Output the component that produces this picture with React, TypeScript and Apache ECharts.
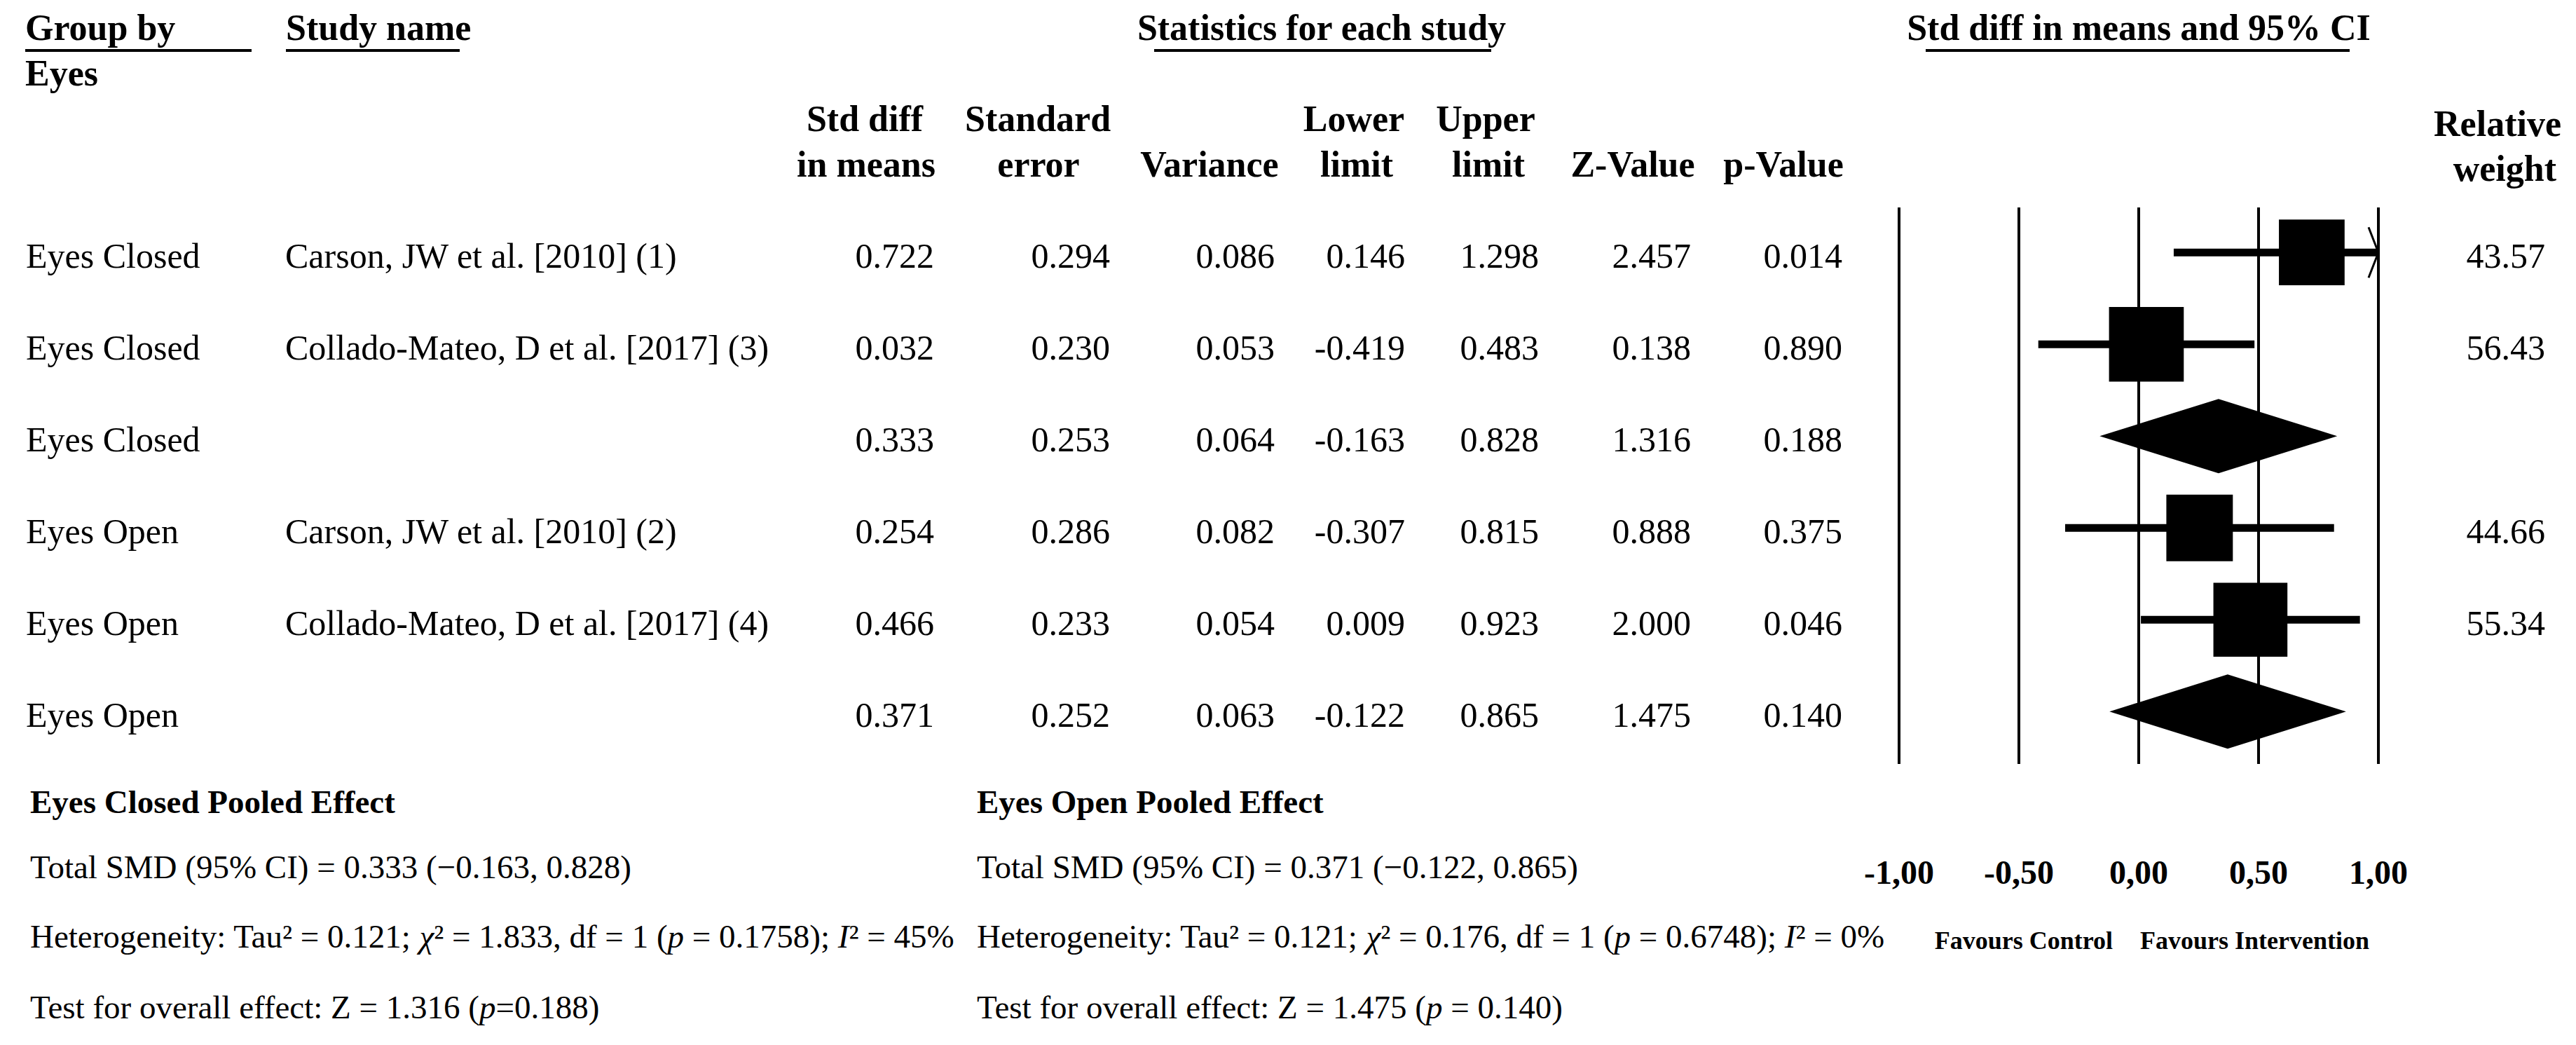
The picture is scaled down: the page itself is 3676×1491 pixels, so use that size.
import React, { useEffect, useRef } from 'react';
import * as echarts from 'echarts';

// ---------- data ----------
const groups = ['Eyes Closed', 'Eyes Closed', 'Eyes Closed', 'Eyes Open', 'Eyes Open', 'Eyes Open'];
const studies = [
  'Carson, JW et al. [2010] (1)',
  'Collado-Mateo, D et al. [2017] (3)',
  '',
  'Carson, JW et al. [2010] (2)',
  'Collado-Mateo, D et al. [2017] (4)',
  '',
];
const stdDiff = [0.722, 0.032, 0.333, 0.254, 0.466, 0.371];
const stdErr = [0.294, 0.23, 0.253, 0.286, 0.233, 0.252];
const variance = [0.086, 0.053, 0.064, 0.082, 0.054, 0.063];
const lowerLimit = [0.146, -0.419, -0.163, -0.307, 0.009, -0.122];
const upperLimit = [1.298, 0.483, 0.828, 0.815, 0.923, 0.865];
const zValue = [2.457, 0.138, 1.316, 0.888, 2.0, 1.475];
const pValue = [0.014, 0.89, 0.188, 0.375, 0.046, 0.14];
const relWeight: (number | null)[] = [43.57, 56.43, null, 44.66, 55.34, null];
const isPooled = [false, false, true, false, false, true];

const xTicks = [-1, -0.5, 0, 0.5, 1];
const xTickLabels = ['-1,00', '-0,50', '0,00', '0,50', '1,00'];

const summaryClosed = {
  title: 'Eyes Closed Pooled Effect',
  total: 'Total SMD (95% CI) = 0.333 (−0.163, 0.828)',
  het: 'Heterogeneity: Tau² = 0.121; {i|χ}² = 1.833, df = 1 ({i|p} = 0.1758); {i|I}² = 45%',
  test: 'Test for overall effect: Z = 1.316 ({i|p}=0.188)',
};
const summaryOpen = {
  title: 'Eyes Open Pooled Effect',
  total: 'Total SMD (95% CI) = 0.371 (−0.122, 0.865)',
  het: 'Heterogeneity: Tau² = 0.121; {i|χ}² = 0.176, df = 1 ({i|p} = 0.6748); {i|I}² = 0%',
  test: 'Test for overall effect: Z = 1.475 ({i|p} = 0.140)',
};

// ---------- layout / style ----------
const FONT = '"Liberation Serif", "Times New Roman", serif';
const BLACK = '#000';
const X_MIN = -1;
const X_MAX = 1;
const GRID_LEFT = 2710;
const GRID_RIGHT_X = 3394;
const GRID_TOP = 296;
const GRID_BOTTOM_Y = 1090;
const BODY_SIZE = 50;
const HEAD_SIZE = 52;
const FOOT_SIZE = 47;

type Col = { x: number; align: string; get: (i: number) => string };
const tableCols: Col[] = [
  { x: 37, align: 'left', get: (i) => groups[i] },
  { x: 407, align: 'left', get: (i) => studies[i] },
  { x: 1333, align: 'right', get: (i) => stdDiff[i].toFixed(3) },
  { x: 1584, align: 'right', get: (i) => stdErr[i].toFixed(3) },
  { x: 1819, align: 'right', get: (i) => variance[i].toFixed(3) },
  { x: 2005, align: 'right', get: (i) => lowerLimit[i].toFixed(3) },
  { x: 2196, align: 'right', get: (i) => upperLimit[i].toFixed(3) },
  { x: 2413, align: 'right', get: (i) => zValue[i].toFixed(3) },
  { x: 2629, align: 'right', get: (i) => pValue[i].toFixed(3) },
  { x: 3632, align: 'right', get: (i) => (relWeight[i] == null ? '' : (relWeight[i] as number).toFixed(2)) },
];

function txt(text: string, x: number, y: number, opts: any = {}) {
  return {
    type: 'text',
    x,
    y,
    silent: true,
    style: {
      text,
      fill: BLACK,
      fontFamily: FONT,
      fontSize: opts.size ?? BODY_SIZE,
      fontWeight: opts.bold ? 'bold' : 'normal',
      align: opts.align ?? 'left',
      verticalAlign: 'middle',
      rich: opts.rich,
    },
  };
}

function hline(x1: number, x2: number, y: number) {
  return {
    type: 'line',
    silent: true,
    shape: { x1, y1: y, x2, y2: y },
    style: { stroke: BLACK, lineWidth: 4 },
  };
}

export default function App() {
  const ref = useRef<HTMLDivElement>(null);

  useEffect(() => {
    document.body.style.margin = '0';
    const chart = echarts.init(ref.current!, null, { renderer: 'svg' });

    const italicRich = {
      i: { fontStyle: 'italic', fontFamily: FONT, fontSize: FOOT_SIZE, fill: BLACK },
    };

    const H1 = 39; // header row 1 middle
    const HL1 = 169; // column header line 1
    const HL2 = 234; // column header line 2

    const graphics: any[] = [
      txt('Group by', 36, H1, { bold: true, size: HEAD_SIZE }),
      hline(36, 359, 72),
      txt('Study name', 408, H1, { bold: true, size: HEAD_SIZE }),
      hline(408, 656, 72),
      txt('Statistics for each study', 1886, H1, { bold: true, size: HEAD_SIZE, align: 'center' }),
      hline(1647, 2128, 72),
      txt('Std diff in means and 95% CI', 3052, H1, { bold: true, size: HEAD_SIZE, align: 'center' }),
      hline(2748, 3353, 72),
      txt('Eyes', 36, 104, { bold: true, size: HEAD_SIZE }),

      txt('Std diff', 1234, HL1, { bold: true, size: HEAD_SIZE, align: 'center' }),
      txt('in means', 1236, HL2, { bold: true, size: HEAD_SIZE, align: 'center' }),
      txt('Standard', 1481, HL1, { bold: true, size: HEAD_SIZE, align: 'center' }),
      txt('error', 1482, HL2, { bold: true, size: HEAD_SIZE, align: 'center' }),
      txt('Variance', 1726, HL2, { bold: true, size: HEAD_SIZE, align: 'center' }),
      txt('Lower', 1932, HL1, { bold: true, size: HEAD_SIZE, align: 'center' }),
      txt('limit', 1936, HL2, { bold: true, size: HEAD_SIZE, align: 'center' }),
      txt('Upper', 2120, HL1, { bold: true, size: HEAD_SIZE, align: 'center' }),
      txt('limit', 2124, HL2, { bold: true, size: HEAD_SIZE, align: 'center' }),
      txt('Z-Value', 2330, HL2, { bold: true, size: HEAD_SIZE, align: 'center' }),
      txt('p-Value', 2545, HL2, { bold: true, size: HEAD_SIZE, align: 'center' }),
      txt('Relative', 3655, 176, { bold: true, size: HEAD_SIZE, align: 'right' }),
      txt('weight', 3648, 240, { bold: true, size: HEAD_SIZE, align: 'right' }),

      // footer summaries
      txt(summaryClosed.title, 43, 1144, { bold: true, size: FOOT_SIZE }),
      txt(summaryClosed.total, 43, 1237, { size: FOOT_SIZE }),
      txt(summaryClosed.het, 43, 1336, { size: FOOT_SIZE, rich: italicRich }),
      txt(summaryClosed.test, 43, 1437, { size: FOOT_SIZE, rich: italicRich }),
      txt(summaryOpen.title, 1394, 1144, { bold: true, size: FOOT_SIZE }),
      txt(summaryOpen.total, 1394, 1237, { size: FOOT_SIZE }),
      txt(summaryOpen.het, 1394, 1336, { size: FOOT_SIZE, rich: italicRich }),
      txt(summaryOpen.test, 1394, 1437, { size: FOOT_SIZE, rich: italicRich }),

      txt('Favours Control', 3015, 1342, { bold: true, size: 36, align: 'right' }),
      txt('Favours Intervention', 3054, 1342, { bold: true, size: 36 }),
    ];

    const rowData = stdDiff.map((v, i) => [v, i + 1, lowerLimit[i], upperLimit[i]]);

    const option: any = {
      animation: false,
      backgroundColor: '#fff',
      grid: {
        left: GRID_LEFT,
        top: GRID_TOP,
        width: GRID_RIGHT_X - GRID_LEFT,
        height: GRID_BOTTOM_Y - GRID_TOP,
        containLabel: false,
        outerBoundsMode: 'none',
      },
      xAxis: {
        type: 'value',
        min: X_MIN,
        max: X_MAX,
        interval: 0.5,
        axisLine: { show: false },
        axisTick: { show: false },
        splitLine: { show: true, lineStyle: { color: BLACK, width: 4 } },
        axisLabel: {
          show: true,
          margin: 130,
          fontSize: 48,
          fontWeight: 'bold',
          fontFamily: FONT,
          color: BLACK,
          showMinLabel: true,
          showMaxLabel: true,
          formatter: (v: number) => {
            const k = xTicks.findIndex((t) => Math.abs(t - v) < 1e-9);
            return k >= 0 ? xTickLabels[k] : '';
          },
        },
      },
      yAxis: {
        type: 'value',
        min: 0.51,
        max: 6.57,
        inverse: true,
        show: false,
        splitLine: { show: false },
      },
      graphic: { elements: graphics },
      series: [
        {
          type: 'custom',
          name: 'table',
          clip: false,
          silent: true,
          data: stdDiff.map((_, i) => [0, i + 1]),
          renderItem: (params: any, api: any) => {
            const i = params.dataIndex;
            const y = api.coord([0, api.value(1)])[1] + 5;
            return {
              type: 'group',
              children: tableCols.map((c) => ({
                type: 'text',
                x: c.x,
                y,
                style: {
                  text: c.get(i),
                  fill: BLACK,
                  fontFamily: FONT,
                  fontSize: BODY_SIZE,
                  align: c.align,
                  verticalAlign: 'middle',
                },
              })),
            };
          },
        },
        {
          type: 'custom',
          name: 'forest',
          clip: false,
          silent: true,
          data: rowData,
          renderItem: (params: any, api: any) => {
            const i = params.dataIndex;
            const est = api.value(0);
            const row = api.value(1);
            const lo = api.value(2);
            const hi = api.value(3);
            const y = api.coord([0, row])[1];
            const xE = api.coord([est, row])[0];
            const xL = api.coord([Math.max(lo, X_MIN), row])[0];
            const xU = api.coord([Math.min(hi, X_MAX), row])[0];
            if (isPooled[i]) {
              const h = 53;
              return {
                type: 'polygon',
                shape: { points: [[xL, y], [xE, y - h], [xU, y], [xE, y + h]] },
                style: { fill: BLACK },
              };
            }
            const size = 14.2 * Math.sqrt(relWeight[i] as number);
            const children: any[] = [
              {
                type: 'line',
                shape: { x1: xL, y1: y, x2: xU, y2: y },
                style: { stroke: BLACK, lineWidth: 11 },
              },
              {
                type: 'rect',
                shape: { x: xE - size / 2, y: y - size / 2, width: size, height: size },
                style: { fill: BLACK },
              },
            ];
            if (hi > X_MAX) {
              children.push({
                type: 'polyline',
                shape: { points: [[xU - 14, y - 36], [xU, y], [xU - 14, y + 36]] },
                style: { stroke: BLACK, lineWidth: 3, fill: 'none' },
              });
            }
            return { type: 'group', children };
          },
        },
      ],
    };

    chart.setOption(option);
    return () => chart.dispose();
  }, []);

  return <div ref={ref} style={{ width: 3676, height: 1491 }} />;
}
